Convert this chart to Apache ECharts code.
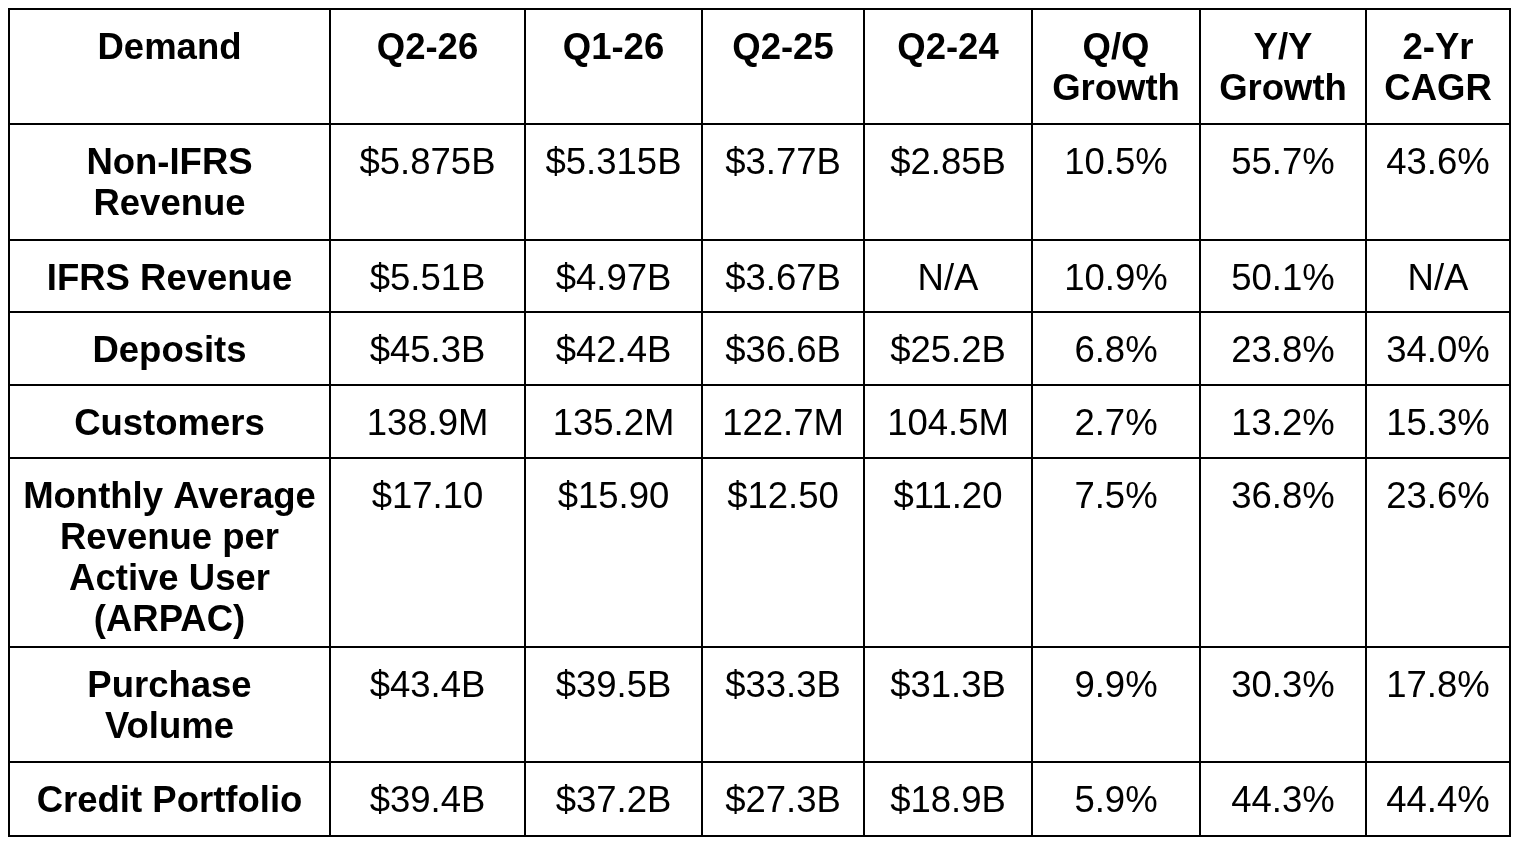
<!DOCTYPE html>
<html>
<head>
<meta charset="utf-8">
<script src="https://cdn.jsdelivr.net/npm/echarts@6/dist/echarts.min.js"></script>
<style>
  html, body { margin: 0; padding: 0; background: #fff; }
  #main { width: 1520px; height: 848px; }
</style>
</head>
<body>
<div id="main"></div>
<script>
// table contents
const headers = ['Demand', 'Q2-26', 'Q1-26', 'Q2-25', 'Q2-24', 'Q/Q\nGrowth', 'Y/Y\nGrowth', '2-Yr\nCAGR'];
const metrics = [
  'Non-IFRS\nRevenue',
  'IFRS Revenue',
  'Deposits',
  'Customers',
  'Monthly Average\nRevenue per\nActive User\n(ARPAC)',
  'Purchase\nVolume',
  'Credit Portfolio'
];
const q226 = ['$5.875B', '$5.51B', '$45.3B', '138.9M', '$17.10', '$43.4B', '$39.4B'];
const q126 = ['$5.315B', '$4.97B', '$42.4B', '135.2M', '$15.90', '$39.5B', '$37.2B'];
const q225 = ['$3.77B', '$3.67B', '$36.6B', '122.7M', '$12.50', '$33.3B', '$27.3B'];
const q224 = ['$2.85B', 'N/A', '$25.2B', '104.5M', '$11.20', '$31.3B', '$18.9B'];
const qqGrowth = ['10.5%', '10.9%', '6.8%', '2.7%', '7.5%', '9.9%', '5.9%'];
const yyGrowth = ['55.7%', '50.1%', '23.8%', '13.2%', '36.8%', '30.3%', '44.3%'];
const cagr2yr = ['43.6%', 'N/A', '34.0%', '15.3%', '23.6%', '17.8%', '44.4%'];

// layout (pixels of the table grid)
const colWidths = [321, 195, 177, 162, 168, 168, 166, 144];
const rowHeights = [115, 116, 72, 73, 73, 189, 115, 74];
const PAD_TOP = 19;
const LINE_H = 41;

const columns = [metrics, q226, q126, q225, q224, qqGrowth, yyGrowth, cagr2yr];
const colEdges = [0];
colWidths.forEach(w => colEdges.push(colEdges[colEdges.length - 1] + w));
const rowEdges = [0];
rowHeights.forEach(h => rowEdges.push(rowEdges[rowEdges.length - 1] + h));

// one item per cell: [col, row, text]
const cells = [];
headers.forEach((h, c) => cells.push([c, 0, h]));
columns.forEach((col, c) => {
  col.forEach((v, r) => cells.push([c, r + 1, v]));
});

const chart = echarts.init(document.getElementById('main'));

chart.setOption({
  backgroundColor: '#fff',
  animation: false,
  grid: { left: 9, top: 9, width: colEdges[colEdges.length - 1], height: rowEdges[rowEdges.length - 1] },
  xAxis: { type: 'value', min: 0, max: colEdges[colEdges.length - 1], show: false },
  yAxis: { type: 'value', min: 0, max: rowEdges[rowEdges.length - 1], inverse: true, show: false },
  series: [{
    type: 'custom',
    data: cells,
    encode: { x: 0, y: 1 },
    renderItem: function (params, api) {
      const c = api.value(0);
      const r = api.value(1);
      const text = cells[params.dataIndex][2];
      const p0 = api.coord([colEdges[c], rowEdges[r]]);
      const p1 = api.coord([colEdges[c + 1], rowEdges[r + 1]]);
      const bold = (r === 0 || c === 0);
      return {
        type: 'group',
        children: [{
          type: 'rect',
          shape: { x: p0[0], y: p0[1], width: p1[0] - p0[0], height: p1[1] - p0[1] },
          style: { fill: '#fff', stroke: '#000', lineWidth: 2 }
        }, {
          type: 'text',
          z2: 10,
          style: {
            text: text,
            x: (p0[0] + p1[0]) / 2,
            y: p0[1] + PAD_TOP,
            align: 'center',
            verticalAlign: 'top',
            lineHeight: LINE_H,
            fill: '#000',
            font: (bold ? 'bold ' : '') + '36.5px "Liberation Sans", Arial, sans-serif'
          }
        }]
      };
    }
  }]
});
</script>
</body>
</html>
